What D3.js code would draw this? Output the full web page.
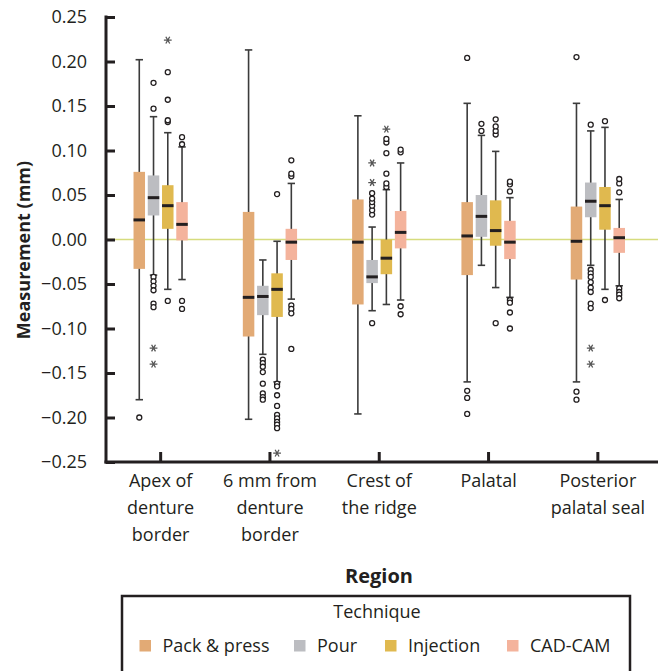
<!DOCTYPE html>
<html>
<head>
<meta charset="utf-8">
<script src="https://cdn.jsdelivr.net/npm/d3@7"></script>
<style>
body { margin: 0; background: #fff; }
svg text { font-family: "Open Sans", sans-serif; fill: #231f20; }
</style>
</head>
<body>
<svg id="chart" width="658" height="671"></svg>
<script>
// regions along the x axis
var regions = ["Apex of denture border", "6 mm from denture border", "Crest of the ridge", "Palatal", "Posterior palatal seal"];
var regionLines = [["Apex of", "denture", "border"], ["6 mm from", "denture", "border"], ["Crest of", "the ridge"], ["Palatal"], ["Posterior", "palatal seal"]];
var techniques = ["Pack & press", "Pour", "Injection", "CAD-CAM"];
var techColors = ["#e2aa75", "#bcbdc1", "#e0b94f", "#f4b39c"];
var yTicks = [0.25, 0.20, 0.15, 0.10, 0.05, 0.00, -0.05, -0.10, -0.15, -0.20, -0.25];

// box stats per region: [whisker low, q1, median, q3, whisker high]
var packPress = [[-0.180, -0.033, 0.022, 0.076, 0.202], [-0.202, -0.109, -0.065, 0.031, 0.213], [-0.196, -0.073, -0.003, 0.045, 0.139], [-0.160, -0.040, 0.004, 0.042, 0.153], [-0.160, -0.045, -0.002, 0.037, 0.153]];
var pour = [[-0.040, 0.027, 0.047, 0.072, 0.138], [-0.129, -0.085, -0.064, -0.052, -0.023], [-0.080, -0.049, -0.042, -0.023, 0.014], [-0.029, 0.003, 0.026, 0.050, 0.117], [-0.029, 0.025, 0.043, 0.064, 0.122]];
var injection = [[-0.056, 0.012, 0.038, 0.061, 0.120], [-0.160, -0.087, -0.056, -0.038, -0.002], [-0.073, -0.039, -0.021, 0.000, 0.056], [-0.054, -0.007, 0.010, 0.044, 0.099], [-0.056, 0.011, 0.038, 0.059, 0.126]];
var cadCam = [[-0.045, -0.001, 0.017, 0.042, 0.104], [-0.067, -0.023, -0.003, 0.012, 0.063], [-0.068, -0.010, 0.008, 0.032, 0.086], [-0.065, -0.022, -0.003, 0.021, 0.047], [-0.052, -0.015, 0.002, 0.013, 0.045]];

// outliers (circles) per region
var packPressOut = [[-0.200], [], [], [0.204, -0.170, -0.178, -0.196], [0.205, -0.171, -0.180]];
var pourOut = [[0.176, 0.147, -0.042, -0.047, -0.052, -0.057, -0.072, -0.076], [-0.135, -0.139, -0.143, -0.149, -0.162, -0.173, -0.177, -0.180], [-0.094, 0.028, 0.033, 0.038, 0.042, 0.046, 0.052], [0.122, 0.130], [0.129, -0.034, -0.038, -0.042, -0.048, -0.054, -0.059, -0.072, -0.077]];
var injectionOut = [[0.132, 0.134, 0.157, 0.188, -0.069], [0.051, -0.162, -0.165, -0.175, -0.187, -0.197, -0.201, -0.205, -0.208, -0.212], [0.059, 0.063, 0.074, 0.097, 0.109, 0.113], [0.118, 0.122, 0.127, 0.135, -0.094], [0.133, -0.068]];
var cadCamOut = [[0.107, 0.115, -0.069, -0.078], [0.071, 0.074, 0.089, -0.074, -0.078, -0.083, -0.123], [0.098, 0.101, -0.075, -0.084], [0.054, 0.062, 0.065, -0.068, -0.071, -0.082, -0.100], [0.053, 0.063, 0.068, -0.055, -0.059, -0.062, -0.066]];

// extreme values (asterisks) per region
var packPressExt = [[], [], [], [], []];
var pourExt = [[-0.122, -0.140], [], [0.064, 0.086], [], [-0.122, -0.140]];
var injectionExt = [[0.224], [-0.240], [0.124], [], []];
var cadCamExt = [[], [], [], [], []];

var stats = [packPress, pour, injection, cadCam];
var outs = [packPressOut, pourOut, injectionOut, cadCamOut];
var exts = [packPressExt, pourExt, injectionExt, cadCamExt];

var svg = d3.select("#chart");
var x = d3.scaleBand().domain(regions).range([106, 652.5]);
var xi = d3.scaleBand().domain(techniques).range([-28.5, 28.5]);
var y = d3.scaleLinear().domain([-0.25, 0.25]).range([462, 17]);
var color = d3.scaleOrdinal().domain(techniques).range(techColors);
var boxW = 11.5;

// zero line
svg.append("line")
    .attr("x1", 107).attr("x2", 658)
    .attr("y1", y(0)).attr("y2", y(0))
    .attr("stroke", "#d6dc7e").attr("stroke-width", 1.6);

// boxes
var rows = [];
techniques.forEach(function(t, ti) {
    regions.forEach(function(r, ri) {
	rows.push({t: t, r: r, s: stats[ti][ri], o: outs[ti][ri], e: exts[ti][ri]});
    });
});
var g = svg.selectAll("g.box").data(rows).enter().append("g")
    .attr("class", "box")
    .attr("transform", function(d) { return "translate(" + (x(d.r) + x.bandwidth()/2 + xi(d.t) + xi.bandwidth()/2) + ",0)"; });
g.append("line")
    .attr("y1", function(d) { return y(d.s[0]); })
    .attr("y2", function(d) { return y(d.s[4]); })
    .attr("stroke", "#3b3b3b").attr("stroke-width", 1.6);
g.selectAll("line.cap").data(function(d) { return [d.s[0], d.s[4]]; }).enter().append("line")
    .attr("class", "cap")
    .attr("x1", -3.7).attr("x2", 3.7)
    .attr("y1", function(v) { return y(v); }).attr("y2", function(v) { return y(v); })
    .attr("stroke", "#3b3b3b").attr("stroke-width", 1.6);
g.append("rect")
    .attr("x", -boxW/2).attr("width", boxW)
    .attr("y", function(d) { return y(d.s[3]); })
    .attr("height", function(d) { return y(d.s[1]) - y(d.s[3]); })
    .attr("fill", function(d) { return color(d.t); });
g.append("line")
    .attr("x1", -boxW/2).attr("x2", boxW/2)
    .attr("y1", function(d) { return y(d.s[2]); }).attr("y2", function(d) { return y(d.s[2]); })
    .attr("stroke", "#231f20").attr("stroke-width", 3);
g.selectAll("circle").data(function(d) { return d.o; }).enter().append("circle")
    .attr("cx", 0).attr("cy", function(v) { return y(v); })
    .attr("r", 2.5)
    .attr("fill", "#fff").attr("stroke", "#231f20").attr("stroke-width", 1.3);
// asterisk marks for extremes
var star = d3.symbol().type(d3.symbolAsterisk).size(42);
g.selectAll("path.ext").data(function(d) { return d.e; }).enter().append("path")
    .attr("class", "ext")
    .attr("d", star)
    .attr("transform", function(v) { return "translate(0," + y(v) + ") rotate(90)"; })
    .attr("fill", "none")
    .attr("stroke", "#555").attr("stroke-width", 1.3);

// y axis
var yAxis = svg.append("g").attr("transform", "translate(106,0)")
    .call(d3.axisLeft(y).tickValues(yTicks).tickSize(-9).tickPadding(19).tickFormat(d3.format(".2f")));
yAxis.select(".domain").attr("stroke", "#231f20").attr("stroke-width", 3).attr("d", "M0," + (y(0.25) - 1.5) + "V" + (y(-0.25) + 1.5));
yAxis.selectAll(".tick line").attr("stroke", "#231f20").attr("stroke-width", 3);
yAxis.selectAll(".tick text").style("font-size", "18px").style("font-family", "Open Sans").attr("fill", "#231f20");

// x axis
var xAxis = svg.append("g").attr("transform", "translate(0," + y(-0.25) + ")")
    .call(d3.axisBottom(x).tickSize(-10).tickFormat(""));
xAxis.select(".domain").attr("stroke", "#231f20").attr("stroke-width", 3).attr("d", "M104.5,0H658");
xAxis.selectAll(".tick line").attr("stroke", "#231f20").attr("stroke-width", 3);
regions.forEach(function(r, i) {
    var t = svg.append("text")
	.attr("x", x(r) + x.bandwidth()/2)
	.attr("y", 487)
	.attr("text-anchor", "middle")
	.style("font-size", "18px");
    regionLines[i].forEach(function(line, j) {
	t.append("tspan").attr("x", x(r) + x.bandwidth()/2).attr("dy", j == 0 ? 0 : 27).text(line);
    });
});

// axis titles
svg.append("text")
    .attr("transform", "translate(30,250) rotate(-90)")
    .attr("text-anchor", "middle")
    .style("font-size", "18px").style("font-weight", "bold")
    .text("Measurement (mm)");
svg.append("text")
    .attr("x", 379).attr("y", 583)
    .attr("text-anchor", "middle")
    .style("font-size", "20px").style("font-weight", "bold")
    .text("Region");

// legend
svg.append("rect")
    .attr("x", 122).attr("y", 596).attr("width", 508).attr("height", 100)
    .attr("fill", "none").attr("stroke", "#231f20").attr("stroke-width", 2.5);
svg.append("text")
    .attr("x", 377).attr("y", 618)
    .attr("text-anchor", "middle")
    .style("font-size", "18px")
    .text("Technique");
var legendX = [139.5, 294, 385, 507];
var lg = svg.selectAll("g.leg").data(techniques).enter().append("g")
    .attr("class", "leg")
    .attr("transform", function(d, i) { return "translate(" + legendX[i] + ",640)"; });
lg.append("rect").attr("width", 11.5).attr("height", 11.5).attr("fill", function(d) { return color(d); });
lg.append("text").attr("x", 23).attr("y", 12).style("font-size", "18px").text(function(d) { return d; });
</script>
</body>
</html>
